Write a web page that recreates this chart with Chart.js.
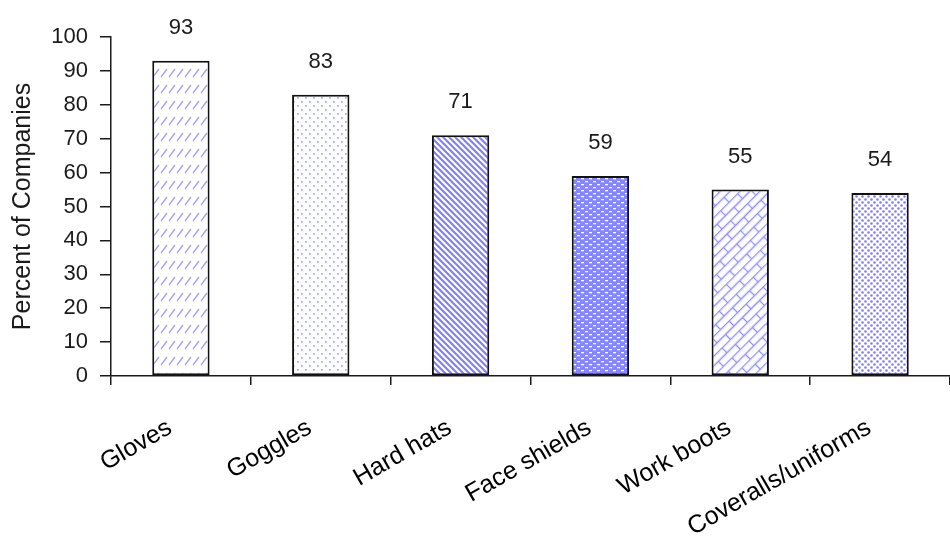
<!DOCTYPE html>
<html>
<head>
<meta charset="utf-8">
<script src="https://cdn.jsdelivr.net/npm/chart.js@4"></script>
<style>
  html, body { margin: 0; padding: 0; background: #fff; }
  #wrap { width: 950px; height: 542px; }
</style>
</head>
<body>
<div id="wrap"><canvas id="ppeChart" width="950" height="542"></canvas></div>
<script>
const categories = ["Gloves", "Goggles", "Hard hats", "Face shields", "Work boots", "Coveralls/uniforms"];
const percents = [93, 83, 71, 59, 55, 54];
const yMin = 0;
const yMax = 100;
const yStep = 10;

const INK = "#1a1a1a";

// small helper: draw into an offscreen tile and turn it into a repeating pattern
function makePattern(w, h, draw, matrix) {
  const tile = document.createElement("canvas");
  tile.width = w;
  tile.height = h;
  const t = tile.getContext("2d");
  t.fillStyle = "#fff";
  t.fillRect(0, 0, w, h);
  draw(t);
  const p = t.createPattern(tile, "repeat");
  if (matrix) p.setTransform(matrix);
  return p;
}

const fills = [
  // rows of short forward slashes
  makePattern(8, 16, t => {
    t.strokeStyle = "#a0a0ff";
    t.lineWidth = 1.3;
    t.beginPath();
    t.moveTo(1, 13);
    t.lineTo(7, 5);
    t.stroke();
  }),
  // sparse dots
  makePattern(8, 8, t => {
    t.fillStyle = "#a8a8ff";
    t.fillRect(1, 1, 1.7, 1.7);
    t.fillRect(5, 5, 1.7, 1.7);
  }),
  // dense back-slash stripes
  makePattern(6, 6, t => {
    t.strokeStyle = "#8080ff";
    t.lineWidth = 2.2;
    t.beginPath();
    t.moveTo(-1, -1); t.lineTo(7, 7);
    t.moveTo(-1, 5); t.lineTo(1, 7);
    t.moveTo(5, -1); t.lineTo(7, 1);
    t.stroke();
  }),
  // solid blue with white dashes
  makePattern(8, 6, t => {
    t.fillStyle = "#8686ff";
    t.fillRect(0, 0, 8, 6);
    t.fillStyle = "#fff";
    t.fillRect(1, 1, 3, 1.3);
    t.fillRect(5, 4, 3, 1.3);
  }),
  // diagonal brick
  makePattern(24, 14, t => {
    t.strokeStyle = "#9090ff";
    t.lineWidth = 1.3;
    t.beginPath();
    t.moveTo(0, 0.5); t.lineTo(24, 0.5);
    t.moveTo(0, 7.5); t.lineTo(24, 7.5);
    t.moveTo(0.5, 0.5); t.lineTo(0.5, 7.5);
    t.moveTo(12.5, 7.5); t.lineTo(12.5, 14);
    t.stroke();
  }, new DOMMatrix().rotate(-45)),
  // dense dots
  makePattern(6, 6, t => {
    t.fillStyle = "#7a7aff";
    t.beginPath();
    t.arc(1.5, 1.5, 1.3, 0, Math.PI * 2);
    t.arc(4.5, 4.5, 1.3, 0, Math.PI * 2);
    t.fill();
  })
];

// numbers printed above each bar
const valueLabels = {
  id: "valueLabels",
  afterDatasetsDraw(chart) {
    const ctx = chart.ctx;
    const meta = chart.getDatasetMeta(0);
    ctx.save();
    ctx.font = '22px "Liberation Sans", Arial, sans-serif';
    ctx.fillStyle = INK;
    ctx.textAlign = "center";
    ctx.textBaseline = "middle";
    meta.data.forEach((bar, i) => {
      ctx.fillText(String(percents[i]), bar.x, bar.y - 33);
    });
    ctx.restore();
  }
};

new Chart(document.getElementById("ppeChart").getContext("2d"), {
  type: "bar",
  data: {
    labels: categories,
    datasets: [{
      data: percents,
      backgroundColor: fills,
      borderColor: "#111",
      borderWidth: 2,
      borderSkipped: false,
      categoryPercentage: 1,
      barPercentage: 0.41
    }]
  },
  options: {
    responsive: false,
    animation: false,
    devicePixelRatio: 1,
    layout: { padding: { top: 37, right: 0, left: 0, bottom: 0 } },
    plugins: {
      legend: { display: false },
      tooltip: { enabled: false }
    },
    scales: {
      x: {
        afterFit: s => { s.height = 166; },
        border: { color: INK, width: 1.5 },
        grid: { drawOnChartArea: false, offset: true, tickLength: 9, color: INK, lineWidth: 1.5 },
        ticks: {
          color: "#000",
          font: { family: '"Liberation Sans", Arial, sans-serif', size: 25 },
          minRotation: 30,
          maxRotation: 30,
          autoSkip: false,
          padding: 28,
          labelOffset: -11
        }
      },
      y: {
        min: yMin,
        max: yMax,
        afterFit: s => { s.width = 111; },
        border: { color: INK, width: 1.5 },
        grid: { drawOnChartArea: false, tickLength: 11, color: INK, lineWidth: 1.5 },
        ticks: {
          stepSize: yStep,
          color: INK,
          padding: 12,
          font: { family: '"Liberation Sans", Arial, sans-serif', size: 22 }
        },
        title: {
          display: true,
          text: "Percent of Companies",
          color: INK,
          font: { family: '"Liberation Sans", Arial, sans-serif', size: 25 },
          padding: { top: 8, bottom: 0 }
        }
      }
    }
  },
  plugins: [valueLabels]
});
</script>
</body>
</html>
